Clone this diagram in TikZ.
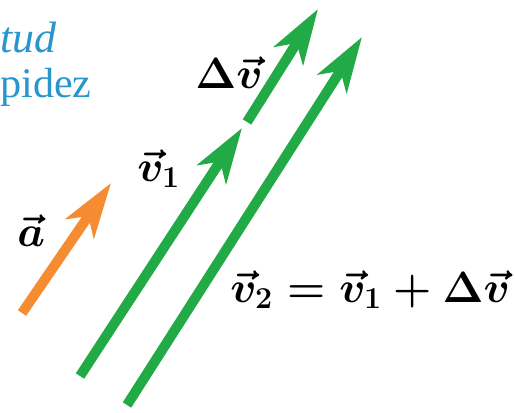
\documentclass[tikz,border=0pt]{standalone}
\usepackage{fontspec}
\setmainfont{Liberation Serif}
\usetikzlibrary{arrows.meta}
\definecolor{vgreen}{RGB}{34,170,70}
\definecolor{aorange}{RGB}{245,140,50}
\definecolor{tblue}{RGB}{40,150,205}
\tikzset{
	vec/.style={line width=0.2cm, -{Stealth[length=1.1cm,width=0.68cm,inset=0.3cm]}},
	lbl/.style={font=\fontsize{26}{30}\selectfont\boldmath, inner sep=0pt, anchor=base west},
	note/.style={font=\fontsize{25}{30}\selectfont, text=tblue, inner sep=0pt, anchor=base west},
}
\begin{document}
\begin{tikzpicture}[x=0.02cm,y=-0.02cm]
	\useasboundingbox (0,0) rectangle (515,413);
	% blue note at the left edge
	\node[note] (tud) at (0,52) {\textit{tud}};
	\node[note, font=\fontsize{24}{30}\selectfont] (pidez) at (0,97) {pidez};
	% end points of the vectors
	\coordinate (atail) at (22,313);
	\coordinate (atip) at (111,183);
	\coordinate (vonetail) at (80,376);
	\coordinate (vonetip) at (242,128);
	\coordinate (dvtail) at (247,122);
	\coordinate (dvtip) at (318,9);
	\coordinate (vtwotail) at (127,405);
	\coordinate (vtwotip) at (362,37);
	\draw [vec, aorange] (atail) -- (atip);
	\draw [vec, vgreen] (vonetail) -- (vonetip);
	\draw [vec, vgreen] (dvtail) -- (dvtip);
	\draw [vec, vgreen] (vtwotail) -- (vtwotip);
	% labels
	\node[lbl] (la) at (17,246) {$\vec{a}$};
	\node[lbl] (lvone) at (137,181) {$\vec{v}_1$};
	\node[lbl] (ldv) at (195,88) {$\Delta\vec{v}$};
	\node[lbl] (lvtwo) at (230,302) {$\vec{v}_2 = \vec{v}_1 + \Delta\vec{v}$};
\end{tikzpicture}
\end{document}
